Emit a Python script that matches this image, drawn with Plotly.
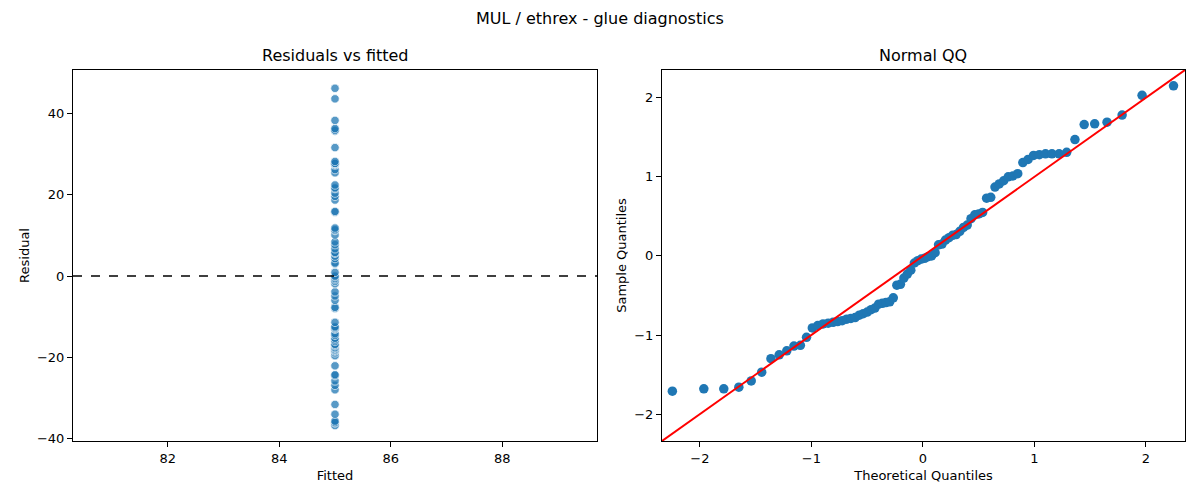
import plotly.graph_objects as go

# fitted value is the same for every observation
fitted_value = 85.0

# residuals (sorted)
residuals = [
    -36.8, -36.1, -36.1, -35.7, -34.0, -31.6, -28.0, -26.9, -25.8, -24.5,
    -24.3, -22.1, -19.6, -18.9, -18.5, -18.3, -18.1, -17.8, -17.6, -17.2,
    -17.0, -16.8, -16.1, -15.7, -15.3, -14.6, -14.2, -13.1, -12.9, -12.7,
    -12.5, -11.4, -8.0, -7.7, -6.0, -4.9, -3.9, -1.9, -1.3, -0.9,
    -0.6, -0.2, 0.0, 0.9, 3.0, 3.2, 4.3, 4.9, 5.6, 5.8,
    6.7, 7.7, 8.4, 10.1, 11.2, 11.4, 11.8, 15.7, 15.9, 18.7,
    19.6, 20.4, 21.5, 21.7, 22.4, 25.4, 26.2, 27.3, 27.5, 27.7,
    27.7, 27.7, 28.2, 31.6, 35.7, 35.9, 36.3, 38.3, 43.6, 46.2,
]

# normal QQ: theoretical quantiles (x) and sample quantiles (y)
theoretical_q = [
    -2.247, -1.965, -1.786, -1.651, -1.540, -1.446, -1.363, -1.289, -1.221, -1.157,
    -1.099, -1.044, -0.992, -0.943, -0.896, -0.850, -0.806, -0.765, -0.724, -0.684,
    -0.646, -0.608, -0.571, -0.535, -0.500, -0.465, -0.431, -0.397, -0.364, -0.331,
    -0.298, -0.266, -0.234, -0.202, -0.171, -0.140, -0.109, -0.077, -0.046, -0.015,
    0.015, 0.046, 0.077, 0.109, 0.140, 0.171, 0.202, 0.234, 0.266, 0.298,
    0.331, 0.364, 0.397, 0.431, 0.465, 0.500, 0.535, 0.571, 0.608, 0.646,
    0.684, 0.724, 0.765, 0.806, 0.850, 0.896, 0.943, 0.992, 1.044, 1.099,
    1.157, 1.221, 1.289, 1.363, 1.446, 1.540, 1.651, 1.786, 1.965, 2.247,
]
sample_q = [
    -1.71, -1.68, -1.68, -1.66, -1.58, -1.47, -1.30, -1.25, -1.20, -1.14,
    -1.13, -1.03, -0.91, -0.88, -0.86, -0.85, -0.84, -0.83, -0.82, -0.80,
    -0.79, -0.78, -0.75, -0.73, -0.71, -0.68, -0.66, -0.61, -0.60, -0.59,
    -0.58, -0.53, -0.37, -0.36, -0.28, -0.23, -0.18, -0.09, -0.06, -0.04,
    -0.03, -0.01, 0.00, 0.04, 0.14, 0.15, 0.20, 0.23, 0.26, 0.27,
    0.31, 0.36, 0.39, 0.47, 0.52, 0.53, 0.55, 0.73, 0.74, 0.87,
    0.91, 0.95, 1.00, 1.01, 1.04, 1.18, 1.22, 1.27, 1.28, 1.29,
    1.29, 1.29, 1.31, 1.47, 1.66, 1.67, 1.69, 1.78, 2.03, 2.15,
]

qq_range = [-2.34, 2.35]
blue = "#1f77b4"
font = "DejaVu Sans"

W, H = 1200, 500
OFF = 8  # page body margin pushes the figure down/right


def px_x(p):
    return (p - OFF) / W


def px_y(p):
    return 1 - (p - OFF) / H


fig = go.Figure()

# residuals vs fitted
fig.add_trace(go.Scatter(
    x=[fitted_value] * len(residuals), y=residuals,
    mode="markers", xaxis="x", yaxis="y",
    marker=dict(color=blue, size=8.5, opacity=0.75, line=dict(color="white", width=0.8)),
    showlegend=False,
))
# zero line
fig.add_trace(go.Scatter(
    x=[80.3, 89.7], y=[0, 0], mode="lines", xaxis="x", yaxis="y",
    line=dict(color="black", width=1.3, dash="dash"), showlegend=False,
))

# QQ points
fig.add_trace(go.Scatter(
    x=theoretical_q, y=sample_q, mode="markers", xaxis="x2", yaxis="y2",
    marker=dict(color=blue, size=9.5), showlegend=False,
))
# 45 degree line
fig.add_trace(go.Scatter(
    x=qq_range, y=qq_range, mode="lines", xaxis="x2", yaxis="y2",
    line=dict(color="red", width=2), showlegend=False,
))

axis_style = dict(
    showline=True, linecolor="black", linewidth=1, mirror=True,
    ticks="outside", ticklen=5, tickwidth=1, tickcolor="black",
    showgrid=False, zeroline=False, automargin=False,
    tickfont=dict(size=13, color="black"),
)

fig.update_layout(
    width=W, height=H,
    margin=dict(l=0, r=0, t=0, b=0, autoexpand=False),
    paper_bgcolor="white", plot_bgcolor="white",
    font=dict(family=font, color="black"),
    xaxis=dict(domain=[px_x(73), px_x(597)], range=[80.3, 89.7],
               tickvals=[82, 84, 86, 88], anchor="y",
               title=dict(text="Fitted", font=dict(size=13), standoff=6), **axis_style),
    yaxis=dict(domain=[px_y(441), px_y(70)], range=[-40.6, 50.7],
               tickvals=[-40, -20, 0, 20, 40], anchor="x",
               title=dict(text="Residual", font=dict(size=13), standoff=4), **axis_style),
    xaxis2=dict(domain=[px_x(662), px_x(1185)], range=qq_range,
                tickvals=[-2, -1, 0, 1, 2], anchor="y2",
                title=dict(text="Theoretical Quantiles", font=dict(size=13), standoff=6), **axis_style),
    yaxis2=dict(domain=[px_y(441), px_y(70)], range=qq_range,
                tickvals=[-2, -1, 0, 1, 2], anchor="x2",
                title=dict(text="Sample Quantiles", font=dict(size=13), standoff=4), **axis_style),
    annotations=[
        dict(text="MUL / ethrex - glue diagnostics", x=px_x(600), y=px_y(18),
             xref="paper", yref="paper", xanchor="center", yanchor="middle",
             showarrow=False, font=dict(size=16)),
        dict(text="Residuals vs fitted", x=px_x(335), y=px_y(56),
             xref="paper", yref="paper", xanchor="center", yanchor="middle",
             showarrow=False, font=dict(size=16)),
        dict(text="Normal QQ", x=px_x(923), y=px_y(56),
             xref="paper", yref="paper", xanchor="center", yanchor="middle",
             showarrow=False, font=dict(size=16)),
    ],
)

fig.write_html("out.html")
